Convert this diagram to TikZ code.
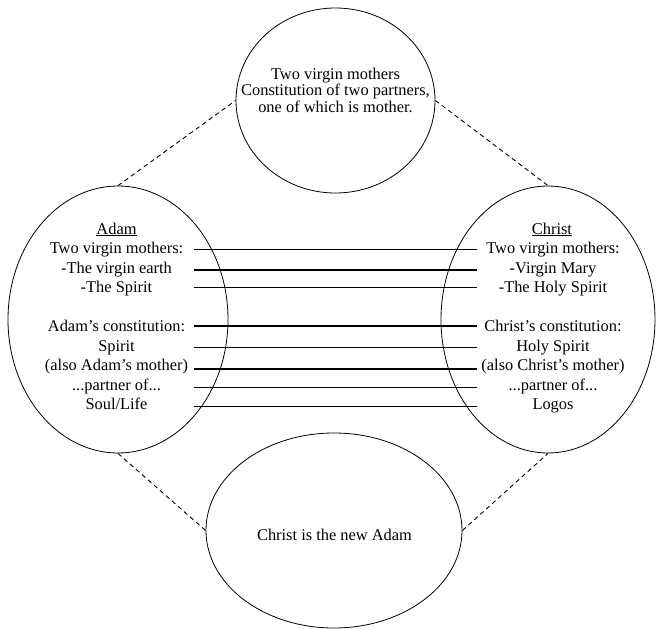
\documentclass[tikz,border=0pt]{standalone}
\usepackage{fontspec}
\setmainfont{Liberation Serif}
\usetikzlibrary{shapes.geometric}
\begin{document}
\begin{tikzpicture}[x=1pt,y=-1pt,
  oval/.style={draw, ellipse, line width=0.8pt, inner sep=0pt},
  txt/.style={anchor=base, inner sep=0pt, font=\fontsize{16.4}{19.5}\selectfont},
  link/.style={line width=0.9pt, dash pattern=on 4.5pt off 3.5pt},
  bar/.style={line width=1.1pt}]
\useasboundingbox (0,0) rectangle (656,629);

% the four ovals
\node[oval, minimum width=199pt, minimum height=185pt] (top)    at (335.5,100.5) {};
\node[oval, minimum width=220pt, minimum height=267pt] (adam)   at (118,319.5) {};
\node[oval, minimum width=214pt, minimum height=267pt] (christ) at (548,319.5) {};
\node[oval, minimum width=256pt, minimum height=195pt] (newadam) at (334,530.5) {};

% dashed links between the ovals
\draw[link] (adam.north) -- (top.west);
\draw[link] (top.east) -- (christ.north);
\draw[link] (adam.south) -- (newadam.west);
\draw[link] (newadam.east) -- (christ.south);

% top oval text
\node[txt] (t1) at (335.5,79)   {Two virgin mothers};
\node[txt] (t2) at (335.5,95.8) {Constitution of two partners,};
\node[txt] (t3) at (335.5,112.5) {one of which is mother.};

% bottom oval text
\node[txt] (b1) at (334.5,540.7) {Christ is the new Adam};

% left oval text
\node[txt] (a0) at (116.5,234)   {\underline{Adam}};
\node[txt] (a1) at (116.5,253.5) {Two virgin mothers:};
\node[txt] (a2) at (116.5,273)   {-The virgin earth};
\node[txt] (a3) at (116.5,292.5) {-The Spirit};
\node[txt] (a4) at (116.5,331.5) {Adam’s constitution:};
\node[txt] (a5) at (116.5,351)   {Spirit};
\node[txt] (a6) at (116.5,370.5) {(also Adam’s mother)};
\node[txt] (a7) at (116.5,390)   {...partner of...};
\node[txt] (a8) at (116.5,409.5) {Soul/Life};

% right oval text
\node[txt] (c0) at (552,234)   {\underline{Christ}};
\node[txt] (c1) at (553,253.5) {Two virgin mothers:};
\node[txt] (c2) at (553,273)   {-Virgin Mary};
\node[txt] (c3) at (553,292.5) {-The Holy Spirit};
\node[txt] (c4) at (553,331.5) {Christ’s constitution:};
\node[txt] (c5) at (553,351)   {Holy Spirit};
\node[txt] (c6) at (553,370.5) {(also Christ’s mother)};
\node[txt] (c7) at (553,390)   {...partner of...};
\node[txt] (c8) at (553,409.5) {Logos};

% parallel correspondence bars
\foreach \i/\yy in {1/249.5, 2/270, 3/287.5, 4/326, 5/347.5, 6/369, 7/387.5, 8/406.5} {
  \coordinate (barL\i) at (194,\yy);
  \coordinate (barR\i) at (476.5,\yy);
  \draw[bar] (barL\i) -- (barR\i);
}
\end{tikzpicture}
\end{document}
